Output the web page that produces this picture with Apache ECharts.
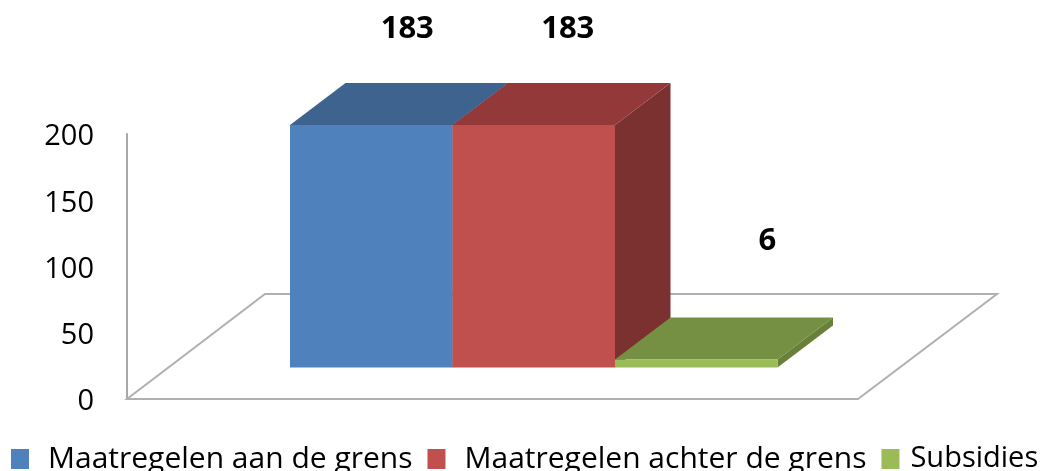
<!DOCTYPE html>
<html><head><meta charset="utf-8">
<style>html,body{margin:0;padding:0;background:#fff}#c{width:1046px;height:471px}</style>
<script src="https://cdn.jsdelivr.net/npm/echarts@6/dist/echarts.min.js"></script>
</head><body><div id="c"></div>
<script>
const categories = ['Maatregelen aan de grens', 'Maatregelen achter de grens', 'Subsidies'];
const aanDeGrens = [183];
const achterDeGrens = [183];
const subsidies = [6];
const tickLabels = [0, 50, 100, 150, 200];

const FONT = '"Open Sans", sans-serif';
const DEPTH = [55.5, -42], LIFT = -31.5;
const LABEL_SHIFT = [[36, -96], [34, -96], [71, -118]];
const PALETTE = [
  { front: '#4F81BD', top: '#3E638F', side: '#335279' },
  { front: '#C0504D', top: '#93393A', side: '#7B3130' },
  { front: '#9BBB59', top: '#769043', side: '#68803A' }
];

function barItem(idx) {
  return function (params, api) {
    const i = api.value(0), v = api.value(1);
    const w = api.size([1, 0])[0];
    const base = api.coord([i, 0]), head = api.coord([i, v]);
    const x0 = base[0] - w / 2, x1 = x0 + w;
    const yb = base[1] + LIFT, yt = head[1] + LIFT;
    const [dx, dy] = DEPTH;
    const c = PALETTE[idx];
    const poly = (pts, fill) => ({ type: 'polygon', shape: { points: pts }, style: { fill: fill } });
    return {
      type: 'group',
      children: [
        poly([[x1, yb], [x1 + dx, yb + dy], [x1 + dx, yt + dy], [x1, yt]], c.side),
        poly([[x0, yt], [x0 + dx, yt + dy], [x1 + dx, yt + dy], [x1, yt]], c.top),
        poly([[x0, yt], [x1, yt], [x1, yb], [x0, yb]], c.front),
        { type: 'text', x: (x0 + x1) / 2 + LABEL_SHIFT[idx][0], y: yt + LABEL_SHIFT[idx][1],
          style: { text: String(v), fill: '#000', font: 'bold 31px ' + FONT, align: 'center', verticalAlign: 'middle' } }
      ]
    };
  };
}

function floorItem(params, api) {
  const w = api.size([1, 0])[0];
  const o = api.coord([0, 0]);
  const left = o[0] - w / 2;
  const y = o[1];
  const pts = [[left - 163, y], [left - 25, y - 105], [left + 707, y - 105], [left + 568, y]];
  return { type: 'polygon', shape: { points: pts },
    style: { fill: '#fff', stroke: '#B0B0B0', lineWidth: 2 } };
}

const chart = echarts.init(document.getElementById('c'), null, { renderer: 'canvas' });
const mkSeries = (name, arr, idx) => ({
  name: name, type: 'custom', renderItem: barItem(idx), z: 3 + idx,
  itemStyle: { color: PALETTE[idx].front },
  encode: { x: 0, y: 1 },
  data: arr.map(v => [idx, v]),
  clip: false, silent: true
});
chart.setOption({
  animation: false,
  backgroundColor: '#fff',
  grid: { left: 290, top: 134, width: 487.5, height: 265, containLabel: false },
  xAxis: { type: 'category', data: categories, show: false, boundaryGap: true },
  yAxis: {
    type: 'value', min: 0, max: 200, interval: 50, offset: 163,
    axisLine: { show: true, onZero: false, lineStyle: { color: '#A8A8A8', width: 2 } },
    axisTick: { show: false }, splitLine: { show: false },
    axisLabel: { margin: 33, color: '#000', fontFamily: FONT, fontSize: 29,
      customValues: tickLabels,
      formatter: '{t|{value}}',
      rich: { t: { fontFamily: FONT, fontSize: 29, color: '#000', padding: [6, 0, 0, 0] } } }
  },
  legend: {
    left: 11, top: 444, padding: 0, itemWidth: 18, itemHeight: 20, itemGap: 15, icon: 'rect',
    selectedMode: false,
    textStyle: { fontFamily: FONT, fontSize: 30, color: '#000' },
    data: categories.map((n, k) => ({ name: n,
      textStyle: { padding: [0, 0, 0, k < 2 ? 14 : 6], fontSize: k < 2 ? 30 : 29 } }))
  },
  series: [
    { type: 'custom', name: 'vloer', renderItem: floorItem, data: [[0, 0]], encode: { x: 0, y: 1 }, z: 1, silent: true, clip: false },
    mkSeries(categories[0], aanDeGrens, 0),
    mkSeries(categories[1], achterDeGrens, 1),
    mkSeries(categories[2], subsidies, 2)
  ]
});
</script></body></html>
